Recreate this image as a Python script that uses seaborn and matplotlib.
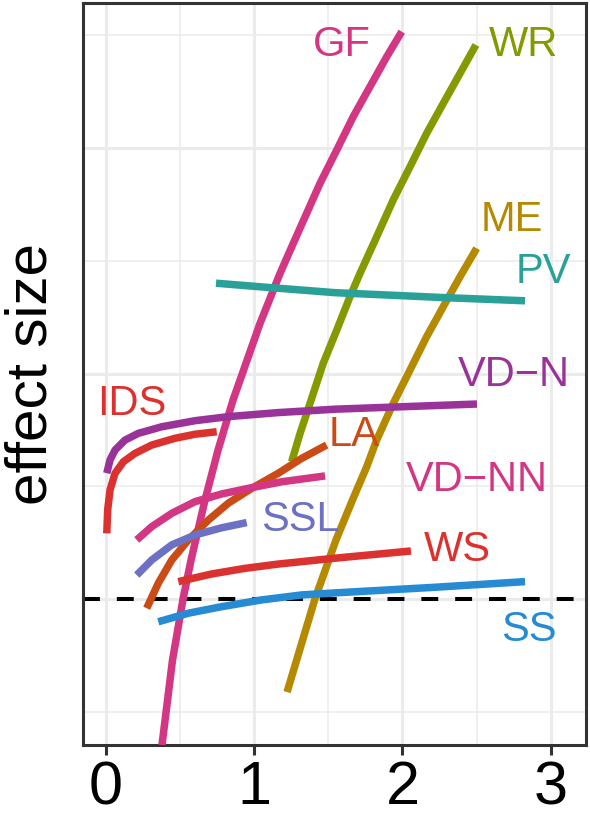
import pandas as pd
import matplotlib.pyplot as plt
import seaborn as sns
import numpy as np

# curves (x, effect size), dashed line = 0
gf_x = [0.379, 0.450, 0.521, 0.575, 0.669, 0.757, 0.858, 1.040, 1.085, 1.175, 1.264,
        1.354, 1.444, 1.557, 1.668, 1.781, 1.894, 1.995]
gf_y = [-0.648, -0.271, 0.0, 0.173, 0.439, 0.661, 0.883, 1.223, 1.297, 1.445, 1.578,
        1.711, 1.844, 1.992, 2.140, 2.273, 2.406, 2.517]
wr_x = [1.253, 1.310, 1.377, 1.466, 1.557, 1.646, 1.714, 1.826, 1.938, 2.051, 2.163,
        2.275, 2.388, 2.495]
wr_y = [0.609, 0.735, 0.868, 1.046, 1.193, 1.341, 1.445, 1.607, 1.771, 1.918, 2.066,
        2.199, 2.332, 2.458]
me_x = [1.222, 1.410, 1.552, 1.663, 1.759, 1.826, 1.938, 2.051, 2.163, 2.275, 2.388, 2.500]
me_y = [-0.413, 0.0, 0.262, 0.439, 0.587, 0.705, 0.868, 1.016, 1.164, 1.297, 1.430, 1.556]
pv_x = [0.743, 1.080, 1.545, 2.286, 2.826]
pv_y = [1.401, 1.383, 1.359, 1.337, 1.323]
vdn_x = [0.007, 0.029, 0.063, 0.130, 0.220, 0.377, 0.602, 0.826, 1.163, 1.545, 2.502]
vdn_y = [0.558, 0.617, 0.661, 0.705, 0.735, 0.764, 0.791, 0.809, 0.827, 0.842, 0.865]
ids_x = [0.007, 0.013, 0.029, 0.063, 0.119, 0.197, 0.310, 0.467, 0.602, 0.748]
ids_y = [0.291, 0.395, 0.484, 0.558, 0.609, 0.646, 0.683, 0.713, 0.731, 0.742]
la_x = [0.276, 0.354, 0.445, 0.557, 0.691, 0.826, 0.984, 1.163, 1.321, 1.489]
la_y = [-0.041, 0.070, 0.173, 0.262, 0.350, 0.425, 0.491, 0.558, 0.624, 0.683]
vdnn_x = [0.209, 0.310, 0.445, 0.602, 0.782, 0.961, 1.186, 1.478]
vdnn_y = [0.262, 0.321, 0.380, 0.432, 0.466, 0.491, 0.520, 0.546]
ssl_x = [0.209, 0.310, 0.445, 0.602, 0.782, 0.950]
ssl_y = [0.106, 0.173, 0.240, 0.284, 0.316, 0.339]
ws_x = [0.489, 0.714, 0.939, 1.163, 1.545, 2.057]
ws_y = [0.077, 0.111, 0.136, 0.155, 0.181, 0.213]
ss_x = [0.354, 0.557, 0.782, 1.051, 1.321, 1.545, 2.219, 2.826]
ss_y = [-0.101, -0.063, -0.034, -0.004, 0.018, 0.027, 0.052, 0.077]

names = ["GF", "WR", "ME", "PV", "VD\u2212N", "IDS", "LA", "VD\u2212NN", "SSL", "WS", "SS"]
xs = [gf_x, wr_x, me_x, pv_x, vdn_x, ids_x, la_x, vdnn_x, ssl_x, ws_x, ss_x]
ys = [gf_y, wr_y, me_y, pv_y, vdn_y, ids_y, la_y, vdnn_y, ssl_y, ws_y, ss_y]

colors = {"GF": "#d33682", "WR": "#859900", "ME": "#b58900", "PV": "#2aa198",
          "VD\u2212N": "#993399", "IDS": "#dc322f", "LA": "#cb4b16",
          "VD\u2212NN": "#d33682", "SSL": "#6c71c4", "WS": "#dc322f", "SS": "#268bd2"}

# where the curve names sit
label_pos = {"GF": (1.592, 2.458), "WR": (2.819, 2.458), "ME": (2.738, 1.681),
             "PV": (2.947, 1.451), "VD\u2212N": (2.751, 0.994), "IDS": (0.177, 0.865),
             "LA": (1.673, 0.728), "VD\u2212NN": (2.502, 0.528), "SSL": (1.309, 0.350),
             "WS": (2.367, 0.217), "SS": (2.852, -0.138)}

rows = []
for n, x, y in zip(names, xs, ys):
    for i, (a, b) in enumerate(zip(x, y)):
        rows.append((n, i, a, b))
df = pd.DataFrame(rows, columns=["curve", "i", "x", "y"])

sns.set_theme(style="whitegrid")
plt.rcParams['font.family'] = ['Liberation Sans', 'DejaVu Sans']

fig = plt.figure(figsize=(5.9, 8.19), dpi=100)
ax = fig.add_axes([0.1415, 0.0903, 0.8525, 0.906])

ax.axhline(0, color="black", lw=2.9, dashes=(4.2, 4.2), zorder=1)
sns.lineplot(data=df, x="x", y="y", hue="curve", units="curve", estimator=None,
             sort=False, palette=colors, hue_order=names, lw=5.4,
             legend=False, ax=ax, solid_capstyle="butt", solid_joinstyle="round",
             zorder=3)

for n in names:
    px, py = label_pos[n]
    ax.text(px, py, n, color=colors[n], fontsize=30, ha="center", va="center")

ax.set_xlim(-0.15, 3.24)
ax.set_ylim(-0.648, 2.644)
ax.set_xticks([0, 1, 2, 3])
ax.set_xticks([0.5, 1.5, 2.5], minor=True)
ax.set_yticks([0, 1, 2])
ax.set_yticks([-0.5, 0.5, 1.5, 2.5], minor=True)
ax.set_yticklabels([])
ax.grid(which="major", color="#ebebeb", lw=2.2)
ax.grid(which="minor", color="#ebebeb", lw=1.1)
ax.set_axisbelow(True)
for s in ax.spines.values():
    s.set_color("#333333")
    s.set_linewidth(2.2)
ax.tick_params(axis="x", which="major", bottom=True, length=7, width=2.2,
               color="#333333", labelsize=44, labelcolor="black", pad=4)
ax.tick_params(axis="y", which="both", left=False, length=0)
ax.tick_params(which="minor", length=0)
ax.set_xlabel("")
ax.set_ylabel("effect size", fontsize=42, color="black")
ax.yaxis.set_label_coords(-0.05, 0.5)

fig.savefig("out.png", dpi=100)
